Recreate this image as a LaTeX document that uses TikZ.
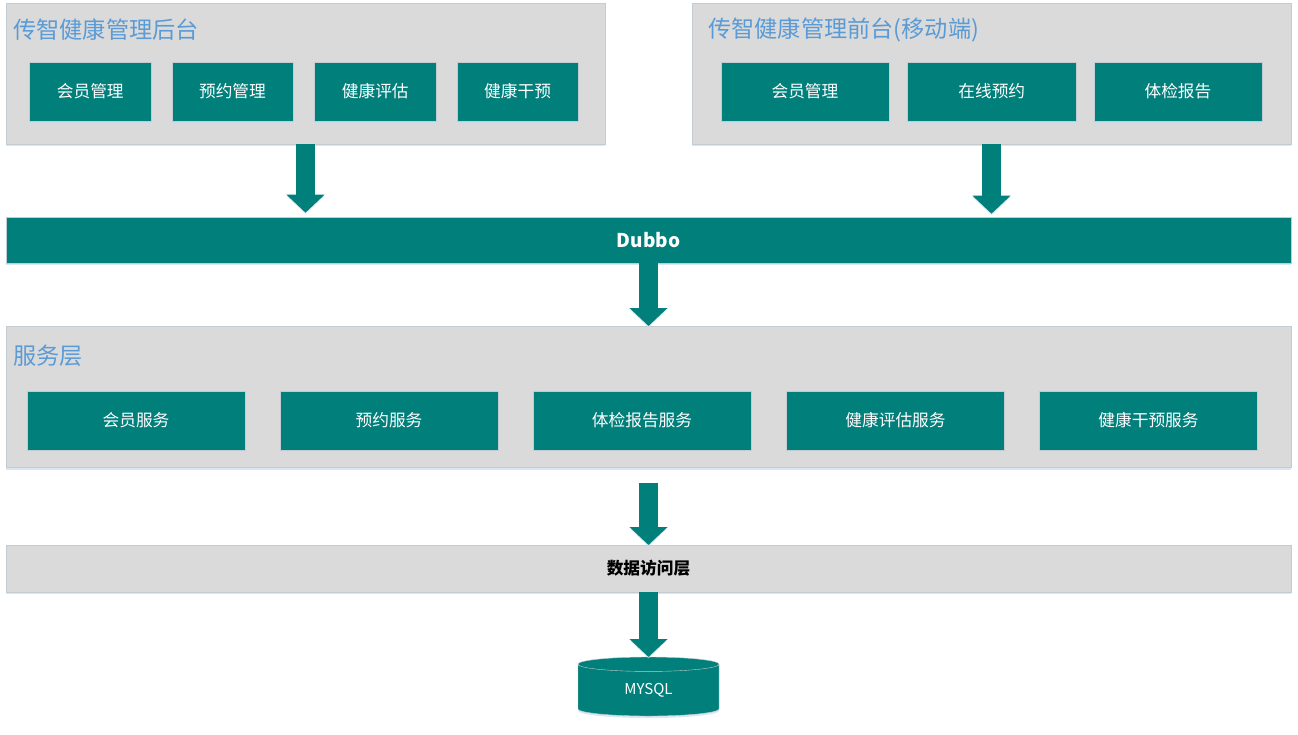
\documentclass[tikz,border=0pt]{standalone}
\usepackage{fontspec}
\usepackage{xcolor}
\setmainfont{Noto Sans CJK SC}
\usetikzlibrary{arrows.meta,shadows,shapes.geometric}
\definecolor{teal-fill}{HTML}{007F7B}
\definecolor{panel-fill}{HTML}{DADADA}
\definecolor{panel-line}{HTML}{C3CCD2}
\definecolor{title-blue}{HTML}{5B9BD5}
\definecolor{soft-blue}{HTML}{C9DDF0}
\tikzset{
    soft-shadow/.style = {drop shadow={shadow xshift=0pt, shadow yshift=-2pt, fill=soft-blue, opacity=0.7}},
    panel-box/.style = {draw=panel-line, fill=panel-fill, thin, rectangle, anchor=north west, inner sep=0pt, outer sep=0pt, soft-shadow},
    panel-title/.style = {anchor=west, inner sep=0pt, text=title-blue, font=\fontsize{23.2}{26}\selectfont},
    item-box/.style = {draw=panel-line, fill=teal-fill, thin, rectangle, anchor=north west, inner sep=0pt, outer sep=0pt, minimum height=58.5pt, text=white, text height=13.5pt, text depth=1.5pt, font=\fontsize{16.7}{20}\selectfont, soft-shadow},
    big-arrow/.style = {draw=teal-fill, line width=18.5pt, -{Triangle[width=37pt,length=18pt]}, preaction={draw=soft-blue, opacity=0.6, transform canvas={yshift=-1.5pt}}},
}

\begin{document}
\begin{tikzpicture}[x=1pt, y=-1pt]
\useasboundingbox (0,0) rectangle (1298,734);

\node[panel-box, minimum width=599pt, minimum height=141.5pt] (back) at (6,2.7) {};
\node[panel-title] (back-title) at (13,29.5) {传智健康管理后台};
\node[item-box, minimum width=121.5pt] (back-member) at (29.5,62.5) {会员管理};
\node[item-box, minimum width=121.5pt] (back-order) at (171.7,62.5) {预约管理};
\node[item-box, minimum width=121.5pt] (back-assess) at (314.5,62.5) {健康评估};
\node[item-box, minimum width=121.5pt] (back-care) at (456.8,62.5) {健康干预};

\node[panel-box, minimum width=599pt, minimum height=141.5pt] (front) at (692,2.7) {};
\node[panel-title] (front-title) at (708,29.5) {传智健康管理前台(移动端)};
\node[item-box, minimum width=168.5pt] (front-member) at (720.7,62.5) {会员管理};
\node[item-box, minimum width=168.5pt] (front-order) at (907.5,62.5) {在线预约};
\node[item-box, minimum width=168.5pt] (front-report) at (1093.7,62.5) {体检报告};

\node[item-box, minimum width=1285pt, minimum height=46.6pt, text height=15pt, text depth=0pt, font=\fontsize{19}{22}\selectfont\bfseries] (dubbo) at (6,216.7) {Dubbo};

\node[panel-box, minimum width=1285pt, minimum height=141.5pt] (service) at (6,326) {};
\node[panel-title] (service-title) at (13,355.5) {服务层};
\node[item-box, minimum width=218pt] (service-member) at (27,391.6) {会员服务};
\node[item-box, minimum width=218pt] (service-order) at (280,391.6) {预约服务};
\node[item-box, minimum width=218pt] (service-report) at (533,391.6) {体检报告服务};
\node[item-box, minimum width=218pt] (service-assess) at (786.5,391.6) {健康评估服务};
\node[item-box, minimum width=218pt] (service-care) at (1039.5,391.6) {健康干预服务};

\node[panel-box, minimum width=1285pt, minimum height=47pt, font=\fontsize{16.7}{20}\selectfont\bfseries] (access) at (6,545) {数据访问层};

\node[cylinder, shape border rotate=90, aspect=0.3, anchor=top, draw=panel-line, thin, fill=teal-fill, text=white, inner sep=0pt, outer sep=0pt, minimum width=141pt, minimum height=59pt, font=\fontsize{15}{18}\selectfont, soft-shadow] (mysql) at (648.5,657) {\raisebox{1.5pt}{MYSQL}};

\draw[big-arrow, shorten >=4pt] (back.south) -- (back.south |- dubbo.north);
\draw[big-arrow, shorten >=3pt] (front.south) -- (front.south |- dubbo.north);
\draw[big-arrow] (dubbo.south) -- (service.north);
\draw[big-arrow, shorten <=15pt] (service.south) -- (access.north);
\draw[big-arrow] (access.south) -- (mysql.top);
\end{tikzpicture}
\end{document}
